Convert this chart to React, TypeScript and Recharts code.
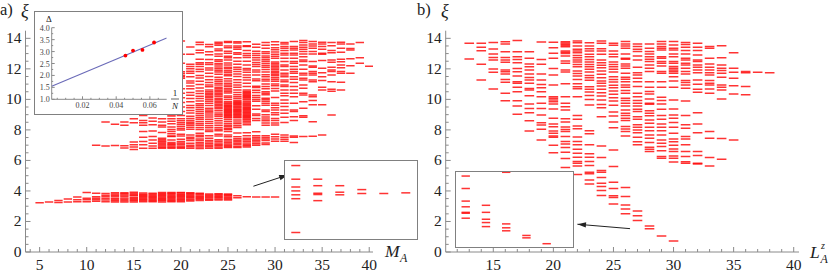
/**
 * Entanglement spectra, panels a) and b), with zoomed insets and the gap scaling inset
 */
import { ReferenceLine, Scatter, ScatterChart, XAxis, YAxis } from 'recharts';

const FONT = '"Liberation Serif", "Times New Roman", serif';
const RED = '#ff0000';
const AXIS = '#8a8a8a';

// panel a: levels per column
const massA = [5, 6, 7, 8, 9, 10, 11, 12, 13, 14, 15, 16, 17, 18, 19, 20, 21, 22, 23, 24, 25, 26, 27, 28, 29, 30, 31, 32, 33, 34, 35, 36, 37, 38, 39, 40];
const xiA: number[][] = [
  [3.23],
  [3.27],
  [3.25, 3.38],
  [3.27, 3.48],
  [3.3, 3.42, 3.6],
  [3.3, 3.42, 3.52, 3.9],
  [3.32, 3.42, 3.52, 3.62, 3.85, 7.0],
  [3.3, 3.4, 3.5, 3.62, 3.72, 3.83, 6.95, 8.52],
  [3.28, 3.36, 3.44, 3.52, 3.64, 3.72, 3.8, 3.88, 6.97, 8.37],
  [3.28, 3.36, 3.46, 3.54, 3.66, 3.74, 3.82, 3.89, 6.82, 6.96, 8.3, 8.52],
  [3.27, 3.35, 3.42, 3.5, 3.57, 3.68, 3.75, 3.83, 3.91, 6.72, 6.88, 7.03, 7.2, 8.47, 8.73],
  [3.3, 3.37, 3.44, 3.51, 3.58, 3.65, 3.72, 3.79, 3.86, 6.8, 7.02, 7.24, 7.52, 7.89, 8.3, 8.47, 8.62, 8.95],
  [3.29, 3.36, 3.43, 3.5, 3.57, 3.64, 3.71, 3.78, 3.85, 6.8, 6.95, 7.13, 7.34, 7.56, 7.93, 8.34, 8.56, 8.78],
  [3.28, 3.35, 3.42, 3.49, 3.56, 3.63, 3.7, 3.77, 3.84, 3.9, 6.8, 6.87, 6.95, 7.03, 7.12, 7.2, 7.28, 7.36, 7.45, 7.83, 8.19, 8.3, 8.51, 8.73],
  [3.29, 3.36, 3.43, 3.5, 3.57, 3.64, 3.71, 3.78, 3.85, 3.9, 6.8, 6.86, 6.95, 7.02, 7.1, 7.17, 7.34, 7.56, 7.6, 7.75, 7.89, 8.03, 8.19, 8.41, 8.56, 8.73, 8.91, 8.99],
  [3.3, 3.37, 3.44, 3.51, 3.58, 3.65, 3.72, 3.79, 3.86, 3.9, 6.8, 6.87, 6.95, 7.06, 7.15, 7.24, 7.39, 7.6, 7.72, 8.0, 8.1, 8.22, 8.35, 8.47, 8.6, 8.73, 8.95, 9.2, 9.5, 9.8, 10.1, 10.4, 10.7, 11.38, 11.48, 11.57, 11.7, 11.81, 12.36, 12.95, 13.82],
  [3.34, 3.41, 3.48, 3.55, 3.62, 3.69, 3.76, 3.83, 3.88, 6.8, 6.9, 7.0, 7.13, 7.3, 7.42, 7.52, 7.67, 8.05, 8.18, 8.3, 8.4, 8.5, 8.62, 8.75, 8.9, 9.1, 9.27, 9.45, 9.6, 9.85, 10.05, 10.27, 10.45, 10.7, 10.87, 11.07, 11.2, 11.48, 11.72, 11.85, 12.0, 12.15, 12.3, 12.95, 13.43],
  [3.38, 3.45, 3.52, 3.59, 3.66, 3.73, 3.8, 3.85, 6.78, 6.88, 6.98, 7.08, 7.18, 7.3, 7.4, 7.55, 7.65, 7.78, 8.02, 8.15, 8.3, 8.42, 8.55, 8.7, 8.82, 8.95, 9.07, 9.2, 9.33, 9.47, 9.6, 9.72, 9.9, 10.05, 10.2, 10.38, 10.55, 10.75, 10.97, 11.18, 11.4, 11.57, 11.82, 11.97, 12.15, 12.3, 12.4, 12.63, 13.05, 13.22, 13.6, 13.75],
  [3.39, 3.46, 3.53, 3.6, 3.67, 3.74, 3.8, 6.8, 6.9, 7.0, 7.1, 7.2, 7.3, 7.45, 7.62, 7.9, 8.0, 8.14, 8.28, 8.42, 8.55, 8.7, 8.85, 8.98, 9.1, 9.2, 9.3, 9.42, 9.6, 9.75, 9.88, 10.0, 10.1, 10.2, 10.3, 10.4, 10.5, 10.62, 10.83, 10.95, 11.1, 11.28, 11.5, 11.72, 11.93, 12.05, 12.28, 12.4, 12.62, 12.92, 13.12, 13.45, 13.6],
  [3.41, 3.48, 3.55, 3.62, 3.69, 3.76, 3.81, 6.8, 6.88, 6.97, 7.05, 7.15, 7.25, 7.35, 7.6, 7.72, 7.95, 8.05, 8.15, 8.3, 8.45, 8.6, 8.75, 8.9, 9.0, 9.1, 9.25, 9.38, 9.48, 9.58, 9.68, 9.78, 9.88, 9.98, 10.08, 10.2, 10.3, 10.4, 10.5, 10.6, 10.7, 10.8, 10.95, 11.05, 11.18, 11.3, 11.45, 11.65, 11.8, 11.9, 12.0, 12.12, 12.25, 12.35, 12.5, 12.6, 12.82, 12.98, 13.18, 13.3, 13.55, 13.65, 13.75],
  [3.4, 3.47, 3.54, 3.61, 3.68, 3.75, 3.8, 6.84, 6.92, 7.0, 7.08, 7.17, 7.27, 7.37, 7.55, 7.67, 7.9, 8.02, 8.1, 8.2, 8.3, 8.42, 8.55, 8.68, 8.8, 8.87, 8.94, 9.0, 9.07, 9.14, 9.2, 9.27, 9.34, 9.41, 9.48, 9.55, 9.62, 9.69, 9.76, 9.84, 10.0, 10.12, 10.22, 10.42, 10.52, 10.62, 10.72, 10.85, 10.95, 11.05, 11.2, 11.35, 11.55, 11.65, 11.78, 11.88, 12.0, 12.1, 12.25, 12.38, 12.58, 12.72, 12.82, 13.02, 13.15, 13.38, 13.5, 13.72, 13.8],
  [3.56, 3.69, 6.85, 6.92, 7.02, 7.12, 7.22, 7.32, 7.42, 7.55, 7.8, 8.15, 8.28, 8.4, 8.52, 8.65, 8.8, 8.87, 8.94, 9.01, 9.08, 9.15, 9.22, 9.29, 9.36, 9.43, 9.5, 9.57, 9.64, 9.71, 9.78, 9.85, 9.92, 10.05, 10.18, 10.3, 10.45, 10.62, 10.8, 10.95, 11.1, 11.28, 11.5, 11.67, 11.82, 11.97, 12.1, 12.3, 12.5, 12.72, 12.95, 13.05, 13.28, 13.4, 13.5, 13.7, 13.78],
  [3.62, 6.88, 6.96, 7.05, 7.15, 7.25, 7.35, 7.45, 7.62, 7.82, 8.33, 8.45, 8.55, 8.65, 8.72, 8.79, 8.86, 8.93, 9.0, 9.07, 9.14, 9.21, 9.28, 9.35, 9.42, 9.49, 9.56, 9.63, 9.7, 9.77, 9.84, 9.96, 10.03, 10.1, 10.17, 10.24, 10.31, 10.38, 10.45, 10.52, 10.62, 10.84, 11.05, 11.27, 11.43, 11.6, 11.77, 11.93, 12.03, 12.26, 12.5, 12.74, 12.87, 13.0, 13.2, 13.46, 13.52, 13.78],
  [3.6, 7.0, 7.1, 7.2, 7.3, 7.4, 7.5, 7.62, 7.88, 8.62, 8.75, 8.95, 9.05, 9.35, 9.58, 9.88, 10.0, 10.12, 10.25, 10.45, 10.6, 10.78, 10.86, 11.22, 11.33, 11.6, 11.8, 11.93, 12.15, 12.28, 12.42, 12.58, 12.72, 12.88, 13.0, 13.15, 13.42, 13.62],
  [3.6, 7.05, 7.15, 7.3, 7.4, 7.5, 7.62, 8.3, 8.45, 8.6, 8.72, 8.85, 9.0, 9.2, 9.3, 9.62, 9.75, 9.88, 10.0, 10.08, 10.3, 10.4, 10.5, 10.7, 10.85, 11.0, 11.2, 11.32, 11.48, 11.62, 11.8, 11.95, 12.1, 12.22, 12.35, 12.48, 12.6, 12.72, 12.85, 13.0, 13.12, 13.35, 13.55, 13.72],
  [3.6, 7.25, 7.4, 7.55, 7.72, 8.32, 8.45, 8.62, 8.75, 9.0, 9.12, 9.3, 9.45, 9.62, 9.75, 10.12, 10.55, 10.72, 10.9, 11.0, 11.18, 11.3, 11.42, 11.55, 11.65, 11.75, 11.85, 11.95, 12.05, 12.15, 12.25, 12.35, 12.45, 12.7, 12.82, 12.95, 13.1, 13.25, 13.38, 13.58, 13.78],
  [7.26, 7.39, 7.52, 7.67, 8.48, 8.83, 9.09, 9.31, 9.53, 9.75, 9.96, 10.23, 10.4, 10.62, 10.84, 10.95, 11.16, 11.27, 11.49, 11.6, 11.71, 11.93, 12.15, 12.26, 12.48, 12.69, 12.91, 13.02, 13.2, 13.35, 13.46, 13.63, 13.72],
  [7.17, 7.52, 7.6, 8.61, 8.87, 9.2, 9.31, 9.75, 10.18, 10.4, 10.62, 10.84, 11.1, 11.32, 11.49, 11.71, 11.82, 11.97, 12.15, 12.37, 12.48, 12.69, 12.91, 13.02, 13.24, 13.35, 13.46, 13.79],
  [7.56, 8.83, 8.92, 9.42, 9.85, 10.29, 10.4, 10.73, 10.95, 11.27, 11.38, 11.6, 11.71, 11.97, 12.26, 12.48, 12.58, 12.8, 12.98, 13.13, 13.28, 13.41, 13.57, 13.72, 13.85],
  [7.58, 8.54, 9.64, 9.92, 10.18, 10.29, 11.16, 11.27, 11.6, 11.71, 11.82, 12.1, 12.19, 12.48, 12.98, 13.13, 13.35, 13.5, 13.63, 13.79],
  [7.67, 9.64, 10.62, 10.79, 11.23, 11.49, 11.75, 12.04, 12.54, 12.96, 13.02, 13.28, 13.46, 13.63, 13.74],
  [8.98, 10.53, 10.66, 11.16, 11.6, 11.82, 11.93, 12.1, 12.43, 12.58, 13.06, 13.2, 13.52, 13.72],
  [10.62, 11.12, 11.71, 11.82, 12.08, 12.26, 12.47, 12.63, 13.09, 13.35, 13.63, 13.74],
  [11.71, 12.21, 12.67, 13.24, 13.33, 13.63],
  [12.37, 12.72, 13.72],
  [12.17],
];

// panel b: levels per column
const angularB = [13, 14, 15, 16, 17, 18, 19, 20, 21, 22, 23, 24, 25, 26, 27, 28, 29, 30, 31, 32, 33, 34, 35, 36, 37, 38];
const xiB: number[][] = [
  [12.64, 13.67],
  [11.27, 12.3, 13.19, 13.41, 13.67],
  [10.68, 11.77, 11.99, 12.58, 12.75, 12.97, 13.3, 13.72],
  [9.91, 10.4, 11.12, 11.31, 11.66, 11.81, 11.92, 12.43, 12.58, 12.75, 13.12, 13.63, 13.78],
  [9.02, 9.56, 9.91, 10.5, 10.79, 11.05, 11.16, 11.53, 11.81, 12.03, 12.4, 12.62, 12.8, 13.12, 13.85],
  [7.93, 8.6, 9.13, 9.41, 9.7, 10.24, 10.61, 10.72, 11.05, 11.27, 11.44, 11.66, 11.92, 12.14, 12.32, 12.69, 13.12],
  [7.34, 8.04, 8.32, 8.47, 8.98, 9.41, 9.74, 10.18, 10.5, 10.77, 10.98, 11.27, 11.66, 12.3, 12.62, 13.76],
  [6.5, 7.0, 7.52, 7.6, 7.78, 7.93, 8.21, 8.39, 8.76, 9.37, 9.7, 9.85, 9.96, 10.07, 10.18, 10.94, 11.6, 12.03, 12.69, 13.02, 13.39, 13.74],
  [5.53, 6.12, 6.54, 6.84, 7.08, 7.24, 7.56, 7.89, 8.03, 8.19, 8.52, 8.73, 9.3, 9.52, 9.74, 10.17, 11.03, 11.79, 11.92, 12.36, 12.51, 12.84, 13.01, 13.08, 13.17, 13.45, 13.53, 13.62, 13.7, 13.78],
  [5.07, 5.64, 5.82, 5.93, 6.21, 6.47, 6.73, 7.02, 7.24, 7.53, 8.08, 8.25, 8.69, 8.95, 10.17, 10.7, 10.83, 11.03, 11.31, 11.53, 11.7, 11.86, 12.14, 12.29, 12.45, 12.58, 12.73, 12.88, 13.06, 13.17, 13.28, 13.49, 13.71, 13.82],
  [4.46, 4.72, 5.12, 5.23, 5.66, 5.93, 6.21, 6.43, 7.02, 7.75, 7.95, 9.63, 10.0, 10.26, 10.48, 10.66, 10.83, 11.25, 11.42, 11.57, 11.79, 11.97, 12.14, 12.29, 12.45, 12.62, 12.8, 12.95, 13.17, 13.32, 13.49, 13.71],
  [3.7, 4.03, 4.29, 4.51, 4.88, 5.23, 5.34, 6.19, 6.95, 8.86, 9.45, 9.67, 9.96, 10.22, 10.44, 10.66, 10.88, 11.05, 11.2, 11.42, 11.64, 11.86, 12.08, 12.23, 12.4, 12.58, 12.95, 13.17, 13.32, 13.67, 13.82],
  [3.15, 3.57, 3.68, 4.16, 4.57, 5.6, 6.69, 8.14, 8.52, 8.91, 9.17, 9.61, 9.89, 10.11, 10.33, 10.55, 10.77, 10.92, 11.14, 11.31, 11.49, 11.79, 11.97, 12.14, 12.29, 12.45, 12.8, 12.95, 13.17, 13.54, 13.67],
  [2.51, 2.81, 3.08, 3.64, 4.23, 7.6, 7.89, 8.06, 8.22, 8.61, 8.76, 8.94, 9.09, 9.31, 9.57, 9.75, 9.92, 10.07, 10.4, 10.58, 10.79, 10.95, 11.16, 11.32, 11.45, 11.71, 12.04, 12.19, 12.32, 12.63, 12.69, 12.98, 13.35, 13.5, 13.63, 13.79],
  [2.07, 2.38, 2.68, 7.02, 7.23, 7.52, 7.82, 8.0, 8.17, 8.33, 8.7, 8.87, 9.2, 9.35, 9.57, 9.75, 9.92, 10.18, 10.4, 10.84, 11.16, 11.38, 11.6, 11.75, 12.1, 12.58, 12.85, 13.13, 13.28, 13.46, 13.63],
  [1.53, 1.7, 6.58, 6.73, 6.86, 7.17, 7.45, 7.67, 7.95, 8.17, 8.43, 8.65, 8.92, 9.09, 9.26, 9.68, 9.75, 10.03, 10.36, 10.51, 10.79, 11.16, 11.82, 12.04, 12.26, 12.48, 12.63, 12.8, 12.98, 13.13, 13.35, 13.63],
  [1.05, 6.14, 6.25, 6.64, 6.91, 7.12, 7.34, 7.67, 7.95, 8.17, 8.39, 8.7, 8.94, 9.35, 9.7, 9.92, 10.14, 10.79, 11.16, 11.71, 11.82, 12.19, 12.37, 12.48, 12.69, 12.8, 13.24, 13.35, 13.46, 13.63, 13.79],
  [0.72, 5.89, 6.14, 6.29, 6.58, 6.75, 6.99, 7.23, 7.41, 7.78, 8.17, 8.48, 8.76, 8.98, 9.37, 9.96, 10.79, 11.21, 11.49, 11.71, 11.82, 11.93, 12.04, 12.15, 12.37, 12.48, 12.8, 12.98, 13.24, 13.35, 13.57, 13.79],
  [5.81, 5.92, 6.25, 6.58, 7.02, 7.41, 7.56, 8.11, 8.33, 8.94, 9.9, 10.73, 10.95, 11.1, 11.23, 11.67, 11.82, 12.04, 12.26, 12.37, 12.58, 12.69, 12.98, 13.2, 13.41, 13.59, 13.72],
  [5.76, 5.81, 6.32, 6.58, 7.82, 8.39, 9.13, 10.47, 10.66, 10.99, 11.27, 11.75, 11.93, 12.1, 12.26, 12.48, 12.58, 12.91, 13.2, 13.41, 13.68],
  [5.63, 6.19, 7.45, 7.89, 10.4, 10.68, 10.95, 11.06, 11.23, 11.6, 11.75, 11.93, 12.1, 12.32, 12.69, 13.35, 13.46],
  [6.08, 7.43, 10.03, 10.62, 10.79, 10.95, 11.45, 11.71, 11.89, 12.04, 12.26, 12.72, 13.52],
  [7.34, 10.36, 10.9, 11.38, 11.78, 12.04, 13.06],
  [10.31, 10.84, 11.75, 11.82],
  [11.78],
  [11.75],
];

// zoomed tail, panel a
const zoomColsA = [26, 27, 28, 29, 30, 31];
const zoomXiA: number[][] = [
  [3.35, 3.61, 3.64, 3.67, 3.7, 3.76, 3.865],
  [3.595, 3.642, 3.652, 3.71, 3.76],
  [3.64, 3.66, 3.71],
  [3.65, 3.68],
  [3.65],
  [3.655],
];

// zoomed tail, panel b
const zoomColsB = [26, 27, 28, 29, 30];
const zoomXiB: number[][] = [
  [2.42, 2.75, 2.81, 3.18, 3.56, 4.4, 5.23],
  [1.86, 2.13, 2.35, 2.81, 3.28],
  [1.58, 1.78, 2.04, 5.48],
  [1.11, 1.27],
  [0.72],
];

// gap scaling inset
const inverseN = [0.0455, 0.05, 0.0556, 0.0625];
const gap = [2.83, 3.04, 3.07, 3.38];
const fitX = [0.0017, 0.07];
const fitY = [1.55, 3.57];

const xTicksA = [4, 5, 6, 7, 8, 9, 10, 11, 12, 13, 14, 15, 16, 17, 18, 19, 20, 21, 22, 23, 24, 25, 26, 27, 28, 29, 30, 31, 32, 33, 34, 35, 36, 37, 38, 39, 40];
const xTicksB = [12, 13, 14, 15, 16, 17, 18, 19, 20, 21, 22, 23, 24, 25, 26, 27, 28, 29, 30, 31, 32, 33, 34, 35, 36, 37, 38, 39, 40];
const yTicks = [0, 0.5, 1, 1.5, 2, 2.5, 3, 3.5, 4, 4.5, 5, 5.5, 6, 6.5, 7, 7.5, 8, 8.5, 9, 9.5, 10, 10.5, 11, 11.5, 12, 12.5, 13, 13.5, 14];
const insetXTicks = [0.005, 0.01, 0.015, 0.02, 0.025, 0.03, 0.035, 0.04, 0.045, 0.05, 0.055, 0.06, 0.065];
const insetYTicks = [1, 1.25, 1.5, 1.75, 2, 2.25, 2.5, 2.75, 3, 3.25, 3.5, 3.75, 4];

const toRows = (cols: number[], levels: number[][]) =>
  cols.flatMap((x, i) => levels[i].map((y) => ({ x, y })));

const dash = (half: number) => (p: any) => (
  <line
    x1={p.cx - half}
    x2={p.cx + half}
    y1={p.cy}
    y2={p.cy}
    stroke={RED}
    strokeWidth={1.5}
    strokeOpacity={0.8}
  />
);

const arrow = (p: any) => {
  const { x1, y1, x2, y2 } = p;
  const a = Math.atan2(y2 - y1, x2 - x1);
  const head = (r: number, off: number) =>
    `${x2 - r * Math.cos(a + off)},${y2 - r * Math.sin(a + off)}`;
  return (
    <g>
      <line x1={x1} y1={y1} x2={x2} y2={y2} stroke="#222" strokeWidth={1} />
      <polygon points={`${x2},${y2} ${head(9, 0.3)} ${head(9, -0.3)}`} fill="#222" />
    </g>
  );
};

const bottomTick = (p: any) => {
  const major = p.payload.value % 5 === 0;
  return (
    <g>
      <line x1={p.x} x2={p.x} y1={p.y} y2={p.y - (major ? 5 : 3)} stroke={AXIS} />
      {major && (
        <text x={p.x} y={p.y + 18} textAnchor="middle" fontSize={15.5} fontFamily={FONT} fill="#222">
          {p.payload.value}
        </text>
      )}
    </g>
  );
};

const leftTick = (p: any) => {
  const major = p.payload.value % 2 === 0;
  return (
    <g>
      <line x1={p.x} x2={p.x + (major ? 5 : 3)} y1={p.y} y2={p.y} stroke={AXIS} />
      {major && (
        <text x={p.x - 4} y={p.y + 5} textAnchor="end" fontSize={15.5} fontFamily={FONT} fill="#222">
          {p.payload.value}
        </text>
      )}
    </g>
  );
};

const insetBottomTick = (p: any) => {
  const v = Math.round(p.payload.value * 1000);
  const major = v % 20 === 0;
  return (
    <g>
      <line x1={p.x} x2={p.x} y1={p.y} y2={p.y - (major ? 3 : 1.5)} stroke={AXIS} />
      {major && (
        <text x={p.x} y={p.y + 9} textAnchor="middle" fontSize={8} fontFamily={FONT} fill="#444">
          {(v / 1000).toFixed(2)}
        </text>
      )}
    </g>
  );
};

const insetLeftTick = (p: any) => {
  const major = (p.payload.value * 2) % 1 === 0;
  return (
    <g>
      <line x1={p.x} x2={p.x + (major ? 3 : 1.5)} y1={p.y} y2={p.y} stroke={AXIS} />
      {major && (
        <text x={p.x - 2} y={p.y + 3} textAnchor="end" fontSize={8} fontFamily={FONT} fill="#444">
          {p.payload.value.toFixed(1)}
        </text>
      )}
    </g>
  );
};

function SpectrumPanel({ left, width, margin, domain, ticks, rows, half, from, to }: any) {
  return (
    <div style={{ position: 'absolute', left, top: 0 }}>
      <ScatterChart width={width} height={274} margin={margin}>
        <XAxis
          dataKey="x"
          type="number"
          domain={domain}
          ticks={ticks}
          interval={0}
          allowDataOverflow
          height={1}
          tickSize={0}
          tickMargin={0}
          tickLine={false}
          tick={bottomTick}
          stroke={AXIS}
        />
        <YAxis
          dataKey="y"
          type="number"
          domain={[0, 14.5]}
          ticks={yTicks}
          interval={0}
          allowDataOverflow
          width={1}
          tickSize={0}
          tickMargin={0}
          tickLine={false}
          tick={leftTick}
          stroke={AXIS}
        />
        <Scatter data={rows} shape={dash(half)} isAnimationActive={false} />
        <ReferenceLine segment={[from, to]} shape={arrow} />
      </ScatterChart>
    </div>
  );
}

function ZoomBox({ left, top, width, height, xDomain, yDomain, rows, half }: any) {
  return (
    <div
      style={{
        position: 'absolute',
        left,
        top,
        width,
        height,
        boxSizing: 'border-box',
        border: '1px solid #808080',
        background: '#fff',
      }}
    >
      <ScatterChart
        width={width - 2}
        height={height - 2}
        margin={{ top: 0, right: 0, bottom: 0, left: 0 }}
      >
        <XAxis dataKey="x" type="number" domain={xDomain} hide allowDataOverflow />
        <YAxis dataKey="y" type="number" domain={yDomain} hide allowDataOverflow />
        <Scatter data={rows} shape={dash(half)} isAnimationActive={false} />
      </ScatterChart>
    </div>
  );
}

function GapInset() {
  const measured = inverseN.map((x, i) => ({ x, y: gap[i] }));
  const fit = fitX.map((x, i) => ({ x, y: fitY[i] }));
  return (
    <div
      style={{
        position: 'absolute',
        left: 34,
        top: 11,
        width: 149,
        height: 104,
        boxSizing: 'border-box',
        border: '1px solid #808080',
        background: '#fff',
      }}
    >
      <ScatterChart width={147} height={102} margin={{ top: 15.7, right: 15.3, bottom: 13.7, left: 15.7 }}>
        <XAxis
          dataKey="x"
          type="number"
          domain={[0.0017, 0.07]}
          ticks={insetXTicks}
          interval={0}
          allowDataOverflow
          height={1}
          tickSize={0}
          tickMargin={0}
          tickLine={false}
          tick={insetBottomTick}
          stroke={AXIS}
        />
        <YAxis
          dataKey="y"
          type="number"
          domain={[1, 4]}
          ticks={insetYTicks}
          interval={0}
          allowDataOverflow
          width={1}
          tickSize={0}
          tickMargin={0}
          tickLine={false}
          tick={insetLeftTick}
          stroke={AXIS}
        />
        <Scatter
          data={fit}
          line={{ stroke: '#6a6ab8', strokeWidth: 1.1 }}
          shape={() => <g />}
          isAnimationActive={false}
        />
        <Scatter data={measured} fill={RED} isAnimationActive={false} shape={(p: any) => <circle cx={p.cx} cy={p.cy} r={1.9} fill={RED} />} />
      </ScatterChart>
    </div>
  );
}

function Labels() {
  const common = { fontFamily: FONT, fill: '#222' };
  return (
    <svg width={830} height={274} style={{ position: 'absolute', left: 0, top: 0, pointerEvents: 'none' }}>
      <text x={0} y={15} fontSize={16.5} {...common}>a)</text>
      <text x={21} y={17} fontSize={18} fontStyle="italic" {...common}>ξ</text>
      <text x={417} y={15} fontSize={16.5} {...common}>b)</text>
      <text x={441} y={17} fontSize={18} fontStyle="italic" {...common}>ξ</text>

      <text x={385} y={257} fontSize={17.5} fontStyle="italic" {...common}>M</text>
      <text x={400} y={262} fontSize={12} fontStyle="italic" {...common}>A</text>

      <text x={810} y={258} fontSize={17.5} fontStyle="italic" {...common}>L</text>
      <text x={821} y={249} fontSize={10} fontStyle="italic" {...common}>z</text>
      <text x={820.5} y={263} fontSize={12} fontStyle="italic" {...common}>A</text>

      <text x={46} y={22} fontSize={9} {...common}>Δ</text>
      <text x={175} y={96} fontSize={9} textAnchor="middle" {...common}>1</text>
      <line x1={171} x2={179} y1={99} y2={99} stroke="#222" strokeWidth={0.7} />
      <text x={175} y={109} fontSize={9} fontStyle="italic" textAnchor="middle" {...common}>N</text>
    </svg>
  );
}

export default function App() {
  return (
    <div style={{ position: 'absolute', left: 0, top: 0, width: 830, height: 274, overflow: 'hidden', background: '#fff' }}>
      <SpectrumPanel
        left={0}
        width={415}
        margin={{ top: 30.7, right: 42, bottom: 21, left: 24.5 }}
        domain={[3.5, 40.4]}
        ticks={xTicksA}
        rows={toRows(massA, xiA)}
        half={4.2}
        from={{ x: 27.7, y: 4.31 }}
        to={{ x: 31.35, y: 5.05 }}
      />
      <SpectrumPanel
        left={415}
        width={415}
        margin={{ top: 30.7, right: 31, bottom: 21, left: 29.7 }}
        domain={[11.04, 40.44]}
        ticks={xTicksB}
        rows={toRows(angularB, xiB)}
        half={4.8}
        from={{ x: 26.38, y: 1.53 }}
        to={{ x: 22.0, y: 1.82 }}
      />
      <GapInset />
      <ZoomBox
        left={284}
        top={160}
        width={134}
        height={80}
        xDomain={[25.51, 31.51]}
        yDomain={[3.3, 3.9]}
        rows={toRows(zoomColsA, zoomXiA)}
        half={4.5}
      />
      <ZoomBox
        left={455}
        top={171}
        width={119}
        height={77}
        xDomain={[25.52, 31.3]}
        yDomain={[0.5, 5.5]}
        rows={toRows(zoomColsB, zoomXiB)}
        half={4.2}
      />
      <Labels />
    </div>
  );
}
